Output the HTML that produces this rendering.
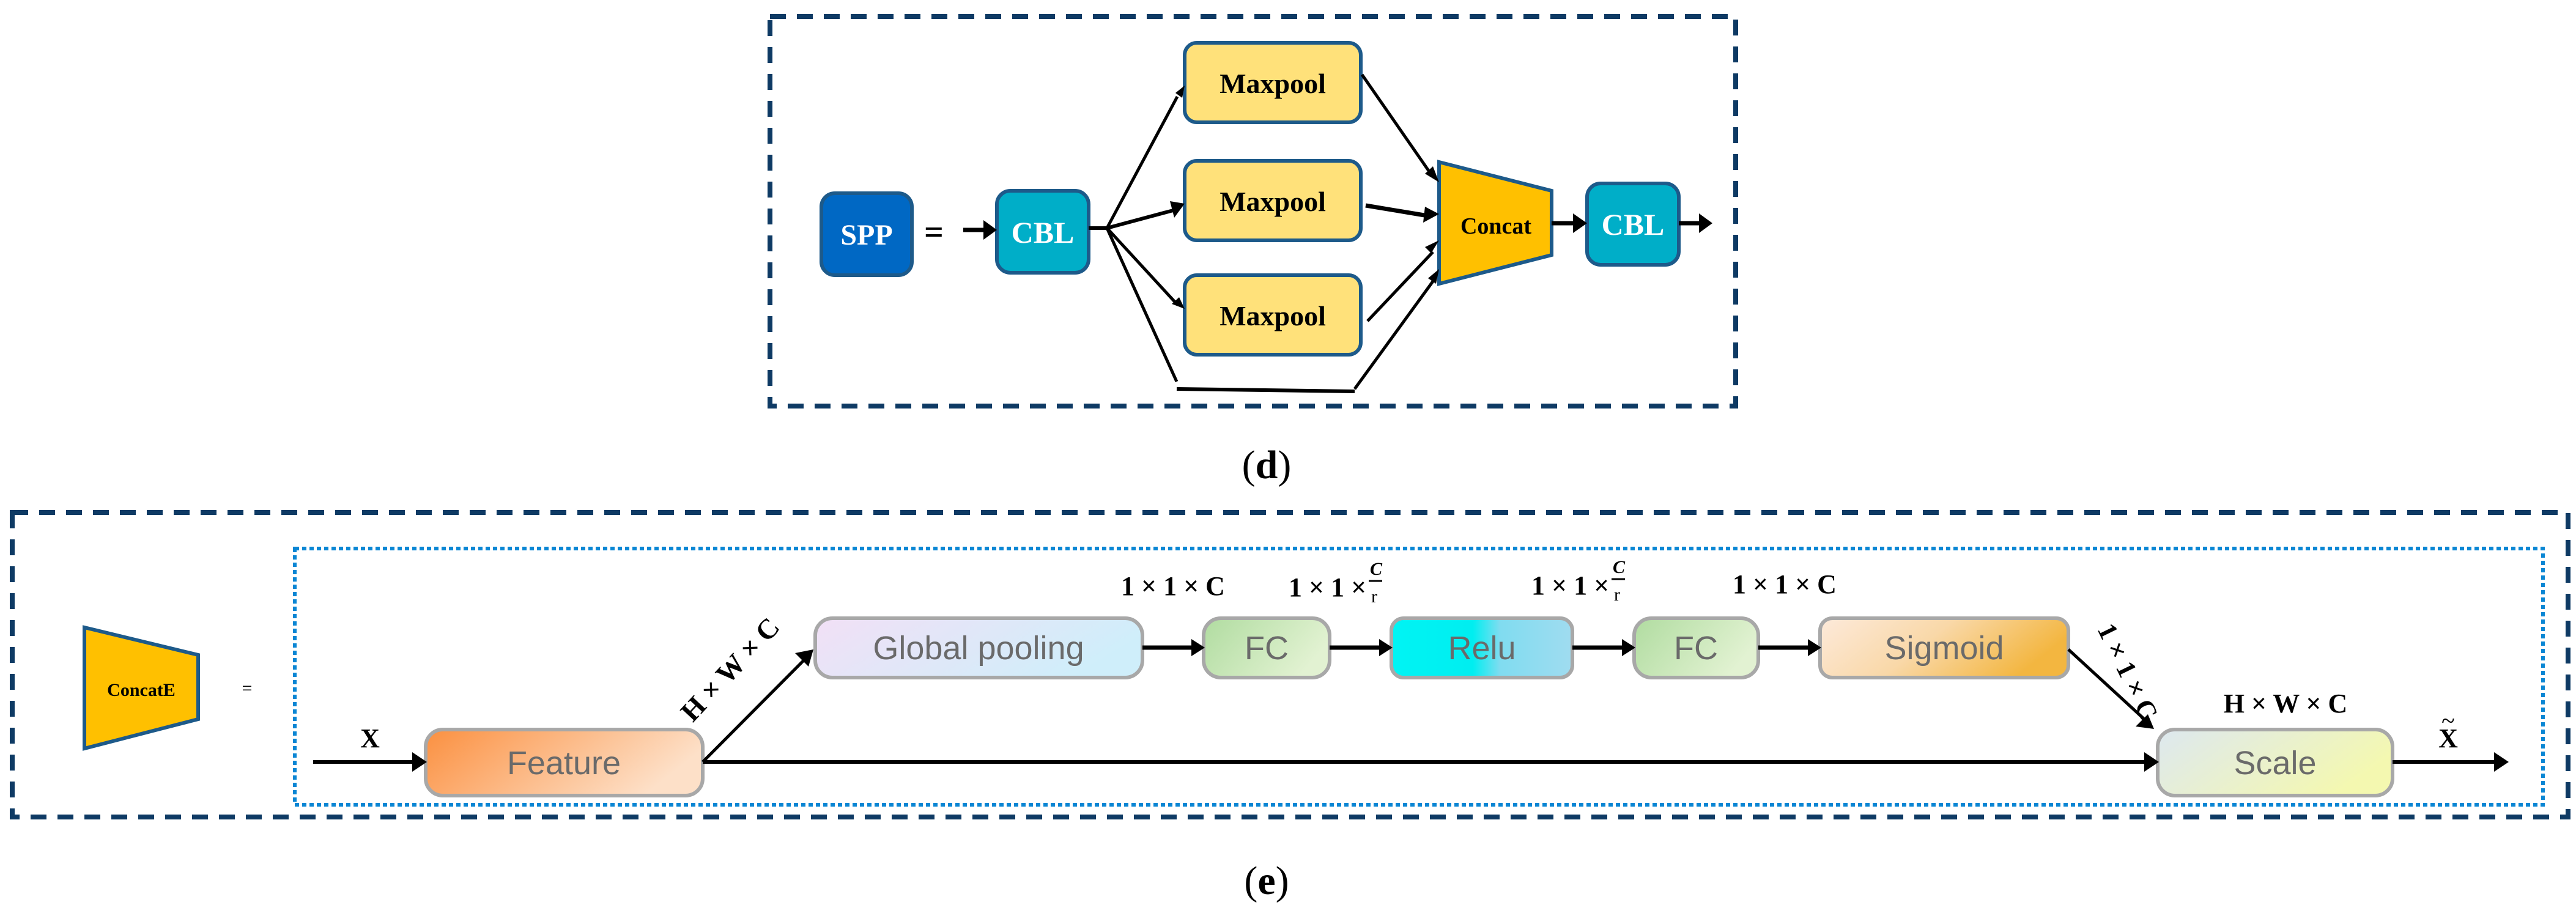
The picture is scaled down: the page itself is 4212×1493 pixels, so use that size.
<!DOCTYPE html>
<html><head><meta charset="utf-8"><style>
html,body{margin:0;padding:0;background:#fff;}
svg{display:block;}
</style></head><body>
<svg width="4212" height="1493" viewBox="0 0 4212 1493" xmlns="http://www.w3.org/2000/svg">
<defs>
<linearGradient id="gFeat" x1="0" y1="0" x2="1" y2="0.3"><stop offset="0" stop-color="#fb9040"/><stop offset="1" stop-color="#fde0c8"/></linearGradient>
<linearGradient id="gGP" x1="0" y1="0" x2="1" y2="0.3"><stop offset="0" stop-color="#f2e0f6"/><stop offset="1" stop-color="#cfeefa"/></linearGradient>
<linearGradient id="gFC" x1="0" y1="0" x2="1" y2="0.4"><stop offset="0" stop-color="#b0dca0"/><stop offset="1" stop-color="#e2f2d2"/></linearGradient>
<linearGradient id="gRelu" x1="0" y1="0" x2="1" y2="0"><stop offset="0" stop-color="#00f4f4"/><stop offset="0.45" stop-color="#00eef0"/><stop offset="0.6" stop-color="#80dcf0"/><stop offset="1" stop-color="#a0dcf0"/></linearGradient>
<linearGradient id="gSig" x1="0" y1="0" x2="1" y2="0.3"><stop offset="0" stop-color="#fdeadb"/><stop offset="0.5" stop-color="#f9d8a8"/><stop offset="1" stop-color="#f3b640"/></linearGradient>
<linearGradient id="gScale" x1="0" y1="0" x2="1" y2="0.4"><stop offset="0" stop-color="#dde8f0"/><stop offset="1" stop-color="#f4f8b0"/></linearGradient>
</defs>

<!-- Panel d -->
<rect x="1259" y="27" width="1579" height="637" fill="none" stroke="#0e3a64" stroke-width="8" stroke-dasharray="26,18"/>
<g font-family="Liberation Serif, serif" font-weight="bold" text-anchor="middle">
<rect x="1343" y="316" width="148" height="134" rx="22" fill="#0068c4" stroke="#1d5a8a" stroke-width="6"/>
<text x="1417" y="400" fill="#fff" font-size="48">SPP</text>
<text x="1527" y="398" font-size="56">=</text>
<rect x="1630" y="312" width="150" height="134" rx="22" fill="#00aec8" stroke="#1d5a8a" stroke-width="6"/>
<text x="1705" y="397" fill="#fff" font-size="50">CBL</text>
<rect x="1937" y="70" width="288" height="130" rx="20" fill="#ffe17a" stroke="#1d5a8a" stroke-width="6"/>
<text x="2081" y="152" font-size="46">Maxpool</text>
<rect x="1937" y="263" width="288" height="130" rx="20" fill="#ffe17a" stroke="#1d5a8a" stroke-width="6"/>
<text x="2081" y="345" font-size="46">Maxpool</text>
<rect x="1937" y="450" width="288" height="130" rx="20" fill="#ffe17a" stroke="#1d5a8a" stroke-width="6"/>
<text x="2081" y="532" font-size="46">Maxpool</text>
<polygon points="2353,265 2537,312 2537,417 2353,464" fill="#ffc000" stroke="#1d5a8a" stroke-width="6"/>
<text x="2446" y="382" font-size="38">Concat</text>
<rect x="2595" y="300" width="150" height="133" rx="22" fill="#00aec8" stroke="#1d5a8a" stroke-width="6"/>
<text x="2670" y="384" fill="#fff" font-size="50">CBL</text>
</g>
<g stroke="#000" stroke-width="5" fill="none">
<line x1="1575" y1="376" x2="1612" y2="376" stroke-width="7"/>
<line x1="1780" y1="373" x2="1810" y2="373" stroke-width="6"/>
<line x1="1810" y1="373" x2="1925" y2="158"/>
<line x1="1810" y1="373" x2="1922" y2="343" stroke-width="6"/>
<line x1="1810" y1="373" x2="1925" y2="498"/>
<line x1="1810" y1="373" x2="1924" y2="624"/>
<line x1="1924" y1="636" x2="2215" y2="640" stroke-width="6"/>
<line x1="2215" y1="636" x2="2343" y2="460"/>
<line x1="2227" y1="122" x2="2340" y2="285"/>
<line x1="2233" y1="336" x2="2335" y2="353" stroke-width="7"/>
<line x1="2236" y1="525" x2="2343" y2="412"/>
<line x1="2537" y1="365" x2="2575" y2="365" stroke-width="7"/>
<line x1="2745" y1="365" x2="2780" y2="365" stroke-width="7"/>
</g>
<g fill="#000">
<polygon points="1630,376 1608,360 1608,392"/>
<polygon points="1937,140 1922,152 1933,160"/>
<polygon points="1937,333 1913,329 1920,356"/>
<polygon points="1937,505 1916,497 1928,486"/>
<polygon points="2353,298 2330,284 2343,272"/>
<polygon points="2353,350 2330,338 2327,364"/>
<polygon points="2353,393 2340,414 2330,404"/>
<polygon points="2353,440 2348,464 2335,455"/>
<polygon points="2595,365 2572,349 2572,381"/>
<polygon points="2800,365 2778,349 2778,381"/>
</g>
<text x="2071" y="782" font-family="Liberation Serif, serif" font-size="66" text-anchor="middle">(<tspan font-weight="bold">d</tspan>)</text>

<!-- Panel e -->
<rect x="20" y="838" width="4179" height="498" fill="none" stroke="#0e3a64" stroke-width="8" stroke-dasharray="26,18"/>
<rect x="482" y="897" width="3676" height="419" fill="none" stroke="#0a86d4" stroke-width="6" stroke-dasharray="7,5"/>
<polygon points="138,1026 324,1071 324,1176 138,1224" fill="#ffc000" stroke="#1d5a8a" stroke-width="6"/>
<text x="231" y="1138" font-family="Liberation Serif, serif" font-weight="bold" font-size="30" text-anchor="middle">ConcatE</text>
<text x="404" y="1135" font-family="Liberation Serif, serif" font-size="30" text-anchor="middle">=</text>

<g stroke="#a8a8a8" stroke-width="6">
<rect x="696" y="1193" width="453" height="108" rx="28" fill="url(#gFeat)"/>
<rect x="1333" y="1011" width="535" height="97" rx="28" fill="url(#gGP)"/>
<rect x="1968" y="1011" width="206" height="97" rx="28" fill="url(#gFC)"/>
<rect x="2275" y="1011" width="296" height="97" rx="20" fill="url(#gRelu)"/>
<rect x="2672" y="1011" width="203" height="97" rx="28" fill="url(#gFC)"/>
<rect x="2976" y="1011" width="406" height="97" rx="20" fill="url(#gSig)"/>
<rect x="3528" y="1193" width="384" height="108" rx="28" fill="url(#gScale)"/>
</g>
<g font-family="Liberation Sans, sans-serif" font-size="54" fill="#6a6a6a" text-anchor="middle">
<text x="922" y="1266">Feature</text>
<text x="1600" y="1078">Global pooling</text>
<text x="2071" y="1078">FC</text>
<text x="2423" y="1078">Relu</text>
<text x="2773" y="1078">FC</text>
<text x="3179" y="1078">Sigmoid</text>
<text x="3720" y="1266">Scale</text>
</g>

<g stroke="#000" stroke-width="6" fill="none">
<line x1="512" y1="1246" x2="676" y2="1246"/>
<line x1="1149" y1="1246" x2="3508" y2="1246"/>
<line x1="1149" y1="1246" x2="1318" y2="1076" stroke-width="5"/>
<line x1="1868" y1="1059" x2="1950" y2="1059" stroke-width="7"/>
<line x1="2174" y1="1059" x2="2258" y2="1059" stroke-width="7"/>
<line x1="2571" y1="1059" x2="2655" y2="1059" stroke-width="7"/>
<line x1="2875" y1="1059" x2="2960" y2="1059" stroke-width="7"/>
<line x1="3382" y1="1062" x2="3505" y2="1175" stroke-width="5"/>
<line x1="3912" y1="1246" x2="4080" y2="1246"/>
</g>
<g fill="#000">
<polygon points="698,1246 674,1230 674,1262"/>
<polygon points="3530,1246 3506,1230 3506,1262"/>
<polygon points="1330,1062 1300,1068 1322,1090"/>
<polygon points="1970,1059 1948,1045 1948,1073"/>
<polygon points="2277,1059 2255,1045 2255,1073"/>
<polygon points="2674,1059 2652,1045 2652,1073"/>
<polygon points="2978,1059 2956,1045 2956,1073"/>
<polygon points="3522,1192 3492,1188 3512,1168"/>
<polygon points="4102,1246 4078,1230 4078,1262"/>
</g>

<g font-family="Liberation Serif, serif" font-weight="bold" fill="#000">
<text x="605" y="1222" font-size="44" text-anchor="middle">X</text>
<text x="1205" y="1105" font-size="46" text-anchor="middle" transform="rotate(-47 1205 1105)">H × W × C</text>
<text x="1918" y="973" font-size="44" text-anchor="middle">1 × 1 × C</text>
<text x="2107" y="975" font-size="44">1 × 1 ×</text>
<text x="2240" y="940" font-size="30" font-style="italic">C</text>
<line x1="2238" y1="950" x2="2260" y2="950" stroke="#000" stroke-width="3"/>
<text x="2242" y="985" font-size="30" font-weight="normal">r</text>
<text x="2504" y="972" font-size="44">1 × 1 ×</text>
<text x="2637" y="937" font-size="30" font-style="italic">C</text>
<line x1="2635" y1="947" x2="2657" y2="947" stroke="#000" stroke-width="3"/>
<text x="2639" y="982" font-size="30" font-weight="normal">r</text>
<text x="2918" y="970" font-size="44" text-anchor="middle">1 × 1 × C</text>
<text x="3466" y="1105" font-size="44" text-anchor="middle" transform="rotate(64 3466 1105)">1 × 1 × C</text>
<text x="3737" y="1165" font-size="44" text-anchor="middle">H × W × C</text>
<text x="4003" y="1222" font-size="44" text-anchor="middle">X</text>
<text x="4003" y="1192" font-size="40" text-anchor="middle" font-weight="normal">~</text>
</g>
<text x="2071" y="1462" font-family="Liberation Serif, serif" font-size="66" text-anchor="middle">(<tspan font-weight="bold">e</tspan>)</text>
</svg>
</body></html>
